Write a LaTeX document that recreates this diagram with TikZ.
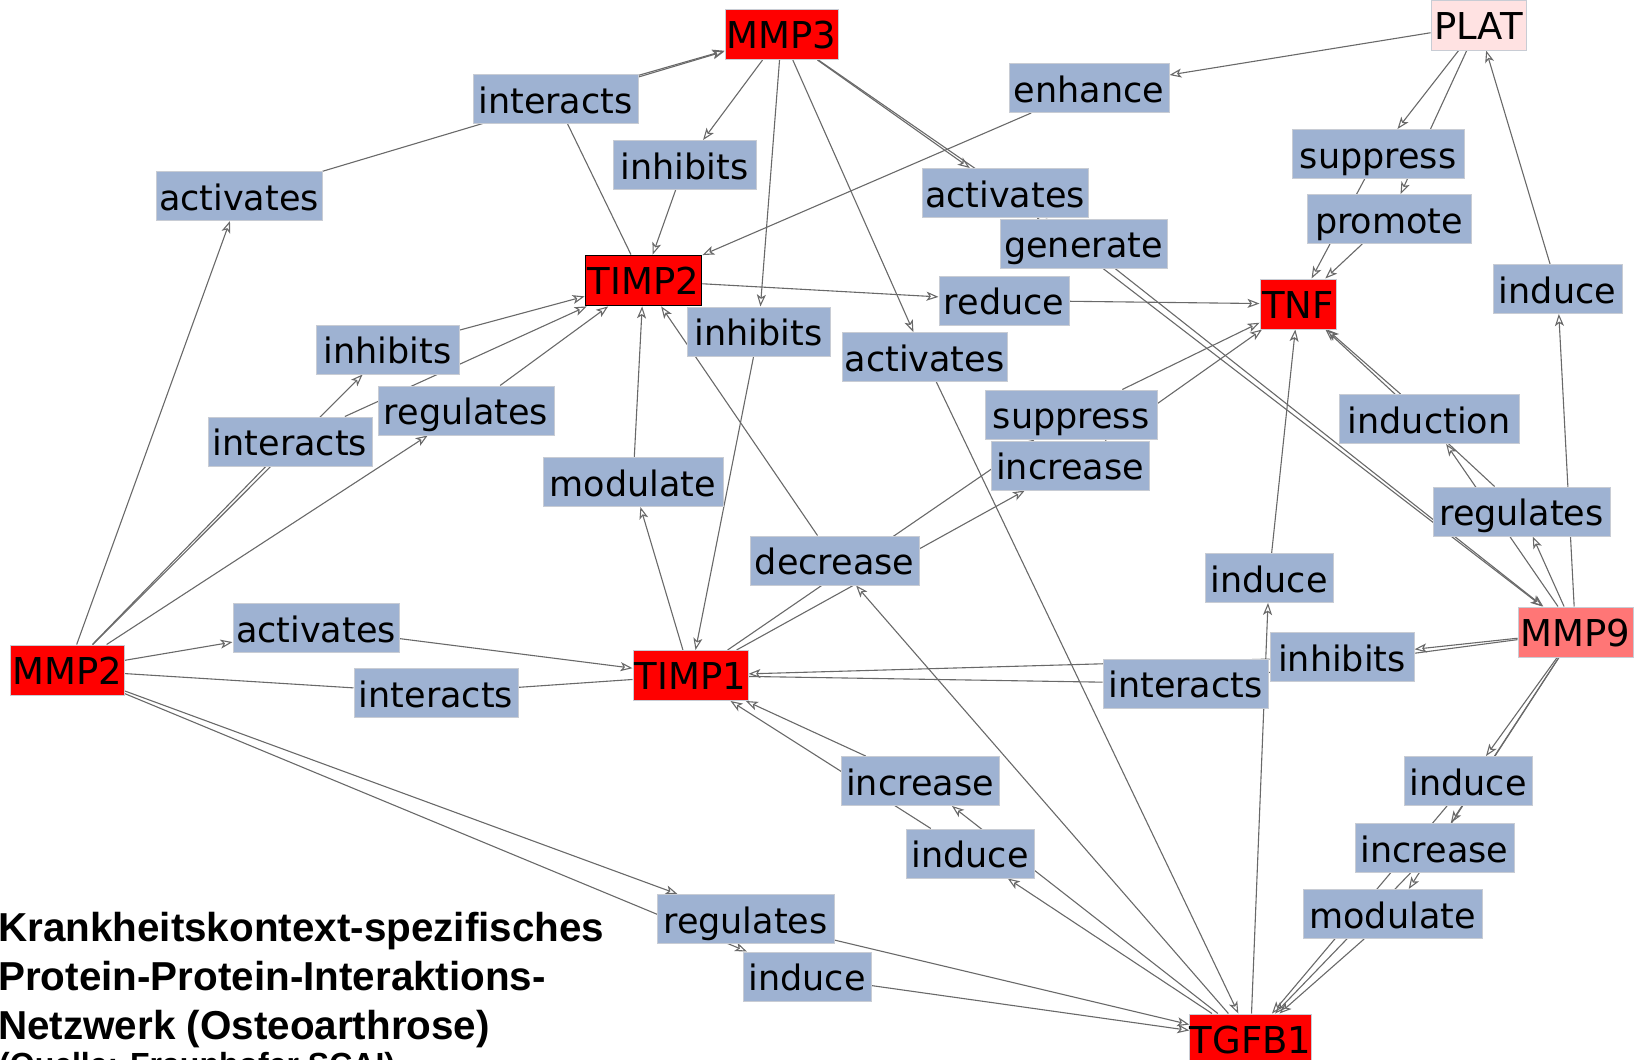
\documentclass[tikz,border=0pt]{standalone}
\usepackage{fontspec}
\setmainfont{DejaVu Sans}
\newfontfamily\titlefont{Liberation Sans}
\usetikzlibrary{arrows.meta}
\pgfdeclarelayer{background}
\pgfsetlayers{background,main}

\definecolor{labelblue}{RGB}{158,178,210}
\definecolor{labelborder}{RGB}{200,204,212}
\definecolor{protred}{RGB}{255,0,0}
\definecolor{mmpnine}{RGB}{255,118,118}
\definecolor{platpink}{RGB}{255,226,226}
\definecolor{edgegrey}{RGB}{105,105,105}

\tikzset{
  rel/.style={fill=labelblue, draw=labelborder, line width=1pt, inner sep=0pt,
    minimum height=49pt, text height=31pt, text depth=3pt,
    font=\fontsize{35pt}{40pt}\selectfont},
  prot/.style={fill=protred, draw=labelborder, line width=1pt, inner sep=0pt,
    minimum height=50pt, text height=32pt, text depth=4pt,
    font=\fontsize{37pt}{42pt}\selectfont},
  link/.style={draw=edgegrey, line width=1.1pt},
  arr/.style={link, -{Stealth[open, length=12pt, width=9pt, inset=3pt]}},
  titleline/.style={inner sep=0pt, anchor=base west,
    font=\titlefont\bfseries\fontsize{40.4pt}{48pt}\selectfont},
}

\begin{document}
\begin{tikzpicture}[x=1pt,y=-1pt]
\useasboundingbox (0,0) rectangle (1639,1060);

% proteins
\node[prot, minimum width=113pt] (MMP3) at (781.5,34.5) {MMP3};
\node[prot, fill=platpink, minimum width=95pt] (PLAT) at (1478.5,25) {PLAT};
\node[prot, draw=black, line width=1.8pt, minimum width=116pt] (TIMP2) at (643.5,280.5) {TIMP2};
\node[prot, minimum width=76pt] (TNF) at (1298,304) {TNF};
\node[prot, minimum width=114pt] (MMP2) at (67.5,670) {MMP2};
\node[prot, minimum width=115pt] (TIMP1) at (690.5,675.5) {TIMP1};
\node[prot, fill=mmpnine, minimum width=115pt] (MMP9) at (1575.5,632) {MMP9};
\node[prot, minimum width=121pt] (TGFB1) at (1250.5,1039) {TGFB1};

% relation nodes
\node[rel, minimum width=165pt] (intT) at (555.5,99) {interacts};
\node[rel, minimum width=143pt] (inhU) at (684.5,165) {inhibits};
\node[rel, minimum width=166pt] (actL) at (239,196) {activates};
\node[rel, minimum width=143pt] (inhL) at (387.5,349.5) {inhibits};
\node[rel, minimum width=164pt] (intL) at (290,441.5) {interacts};
\node[rel, minimum width=176pt] (regL) at (466,410.5) {regulates};
\node[rel, minimum width=180pt] (modL) at (633,482) {modulate};
\node[rel, minimum width=143pt] (inhR) at (758.5,331.5) {inhibits};
\node[rel, minimum width=160pt] (enh) at (1089,88) {enhance};
\node[rel, minimum width=166pt] (actUR) at (1005,193) {activates};
\node[rel, minimum width=167pt] (gen) at (1083.5,243.5) {generate};
\node[rel, minimum width=130pt] (red) at (1004,300.5) {reduce};
\node[rel, minimum width=165pt] (actLow) at (924.5,357) {activates};
\node[rel, minimum width=172pt] (supMid) at (1071,414.5) {suppress};
\node[rel, minimum width=158pt] (incMid) at (1070,465.5) {increase};
\node[rel, minimum width=172pt] (supUR) at (1378,154) {suppress};
\node[rel, minimum width=164pt] (prom) at (1389,219) {promote};
\node[rel, minimum width=129pt] (indRt) at (1557.5,289) {induce};
\node[rel, minimum width=180pt] (indn) at (1429,419) {induction};
\node[rel, minimum width=177pt] (regR) at (1521.5,511.5) {regulates};
\node[rel, minimum width=169pt] (decr) at (834.5,560.5) {decrease};
\node[rel, minimum width=128pt] (indMid) at (1269,578) {induce};
\node[rel, minimum width=144pt] (inhR2) at (1342,657) {inhibits};
\node[rel, minimum width=165pt] (intR) at (1185.5,683.5) {interacts};
\node[rel, minimum width=166pt] (actMid) at (316,628) {activates};
\node[rel, minimum width=164pt] (intMid) at (436,693) {interacts};
\node[rel, minimum width=158pt] (incLow) at (920,781) {increase};
\node[rel, minimum width=128pt] (indLow) at (970,853.5) {induce};
\node[rel, minimum width=128pt] (indR2) at (1468,781) {induce};
\node[rel, minimum width=159pt] (incR) at (1434.5,848) {increase};
\node[rel, minimum width=179pt] (modR) at (1392.5,914) {modulate};
\node[rel, minimum width=177pt] (regB) at (745.5,919) {regulates};
\node[rel, minimum width=128pt] (indB) at (807,976.5) {induce};

% caption
\node[titleline] (cap1) at (-2,941) {Krankheitskontext-spezifisches};
\node[titleline] (cap2) at (-2,990) {Protein-Protein-Interaktions-};
\node[titleline] (cap3) at (-2,1039) {Netzwerk (Osteoarthrose)};
\node[titleline, font=\titlefont\bfseries\fontsize{32pt}{38pt}\selectfont] (cap4) at (-1,1075) {(Quelle: Fraunhofer SCAI)};

% connectors, drawn beneath the boxes
\begin{pgfonlayer}{background}
\draw[arr] (MMP2) -- (actL);
\draw[arr] (actL) -- (MMP3);
\draw[link] (TIMP2) -- (intT);
\draw[arr] (intT) -- (MMP3);
\draw[arr] (MMP3) -- (inhU);
\draw[arr] (inhU) -- (TIMP2);
\draw[arr] (PLAT) -- (enh);
\draw[arr] (enh) -- (TIMP2);
\draw[arr] (MMP3) -- (actUR);
\draw[arr] (actUR) -- (MMP9);
\draw[arr] (MMP3) -- (gen);
\draw[arr] (gen) -- (MMP9);
\draw[arr] (TIMP2) -- (red);
\draw[arr] (red) -- (TNF);
\draw[arr] (MMP3) -- (inhR);
\draw[arr] (inhR) -- (TIMP1);
\draw[arr] (MMP3) -- (actLow);
\draw[arr] (actLow) -- (TGFB1);
\draw[arr] (MMP2) -- (inhL);
\draw[arr] (inhL) -- (TIMP2);
\draw[link] (MMP2) -- (intL);
\draw[arr] (intL) -- (TIMP2);
\draw[arr] (MMP2) -- (regL);
\draw[arr] (regL) -- (TIMP2);
\draw[arr] (TIMP1) -- (modL);
\draw[arr] (modL) -- (TIMP2);
\draw[arr] (TGFB1) -- (decr);
\draw[arr] (decr) -- (TIMP2);
\draw[arr] (TIMP1) -- (incMid);
\draw[arr] (incMid) -- (TNF);
\draw[arr] (TIMP1) -- (supMid);
\draw[arr] (supMid) -- (TNF);
\draw[arr] (PLAT) -- (supUR);
\draw[arr] (supUR) -- (TNF);
\draw[arr] (PLAT) -- (prom);
\draw[arr] (prom) -- (TNF);
\draw[arr] (MMP9) -- (indRt);
\draw[arr] (indRt) -- (PLAT);
\draw[arr] (MMP9) -- (indn);
\draw[arr] (indn) -- (TNF);
\draw[arr] (MMP9) -- (regR);
\draw[arr] (regR) -- (TNF);
\draw[arr] (TGFB1) -- (indMid);
\draw[arr] (indMid) -- (TNF);
\draw[arr] (MMP9) -- (inhR2);
\draw[arr] (inhR2) -- (TIMP1);
\draw[link] (MMP9) -- (intR);
\draw[link] (intR) -- (TIMP1);
\draw[arr] (MMP2) -- (actMid);
\draw[arr] (actMid) -- (TIMP1);
\draw[link] (MMP2) -- (intMid);
\draw[link] (intMid) -- (TIMP1);
\draw[arr] (TGFB1) -- (incLow);
\draw[arr] (incLow) -- (TIMP1);
\draw[arr] (TGFB1) -- (indLow);
\draw[arr] (indLow) -- (TIMP1);
\draw[arr] (MMP9) -- (indR2);
\draw[arr] (indR2) -- (TGFB1);
\draw[arr] (MMP9) -- (incR);
\draw[arr] (incR) -- (TGFB1);
\draw[arr] (MMP9) -- (modR);
\draw[arr] (modR) -- (TGFB1);
\draw[arr] (MMP2) -- (regB);
\draw[arr] (regB) -- (TGFB1);
\draw[arr] (MMP2) -- (indB);
\draw[arr] (indB) -- (TGFB1);
\end{pgfonlayer}
\end{tikzpicture}
\end{document}
